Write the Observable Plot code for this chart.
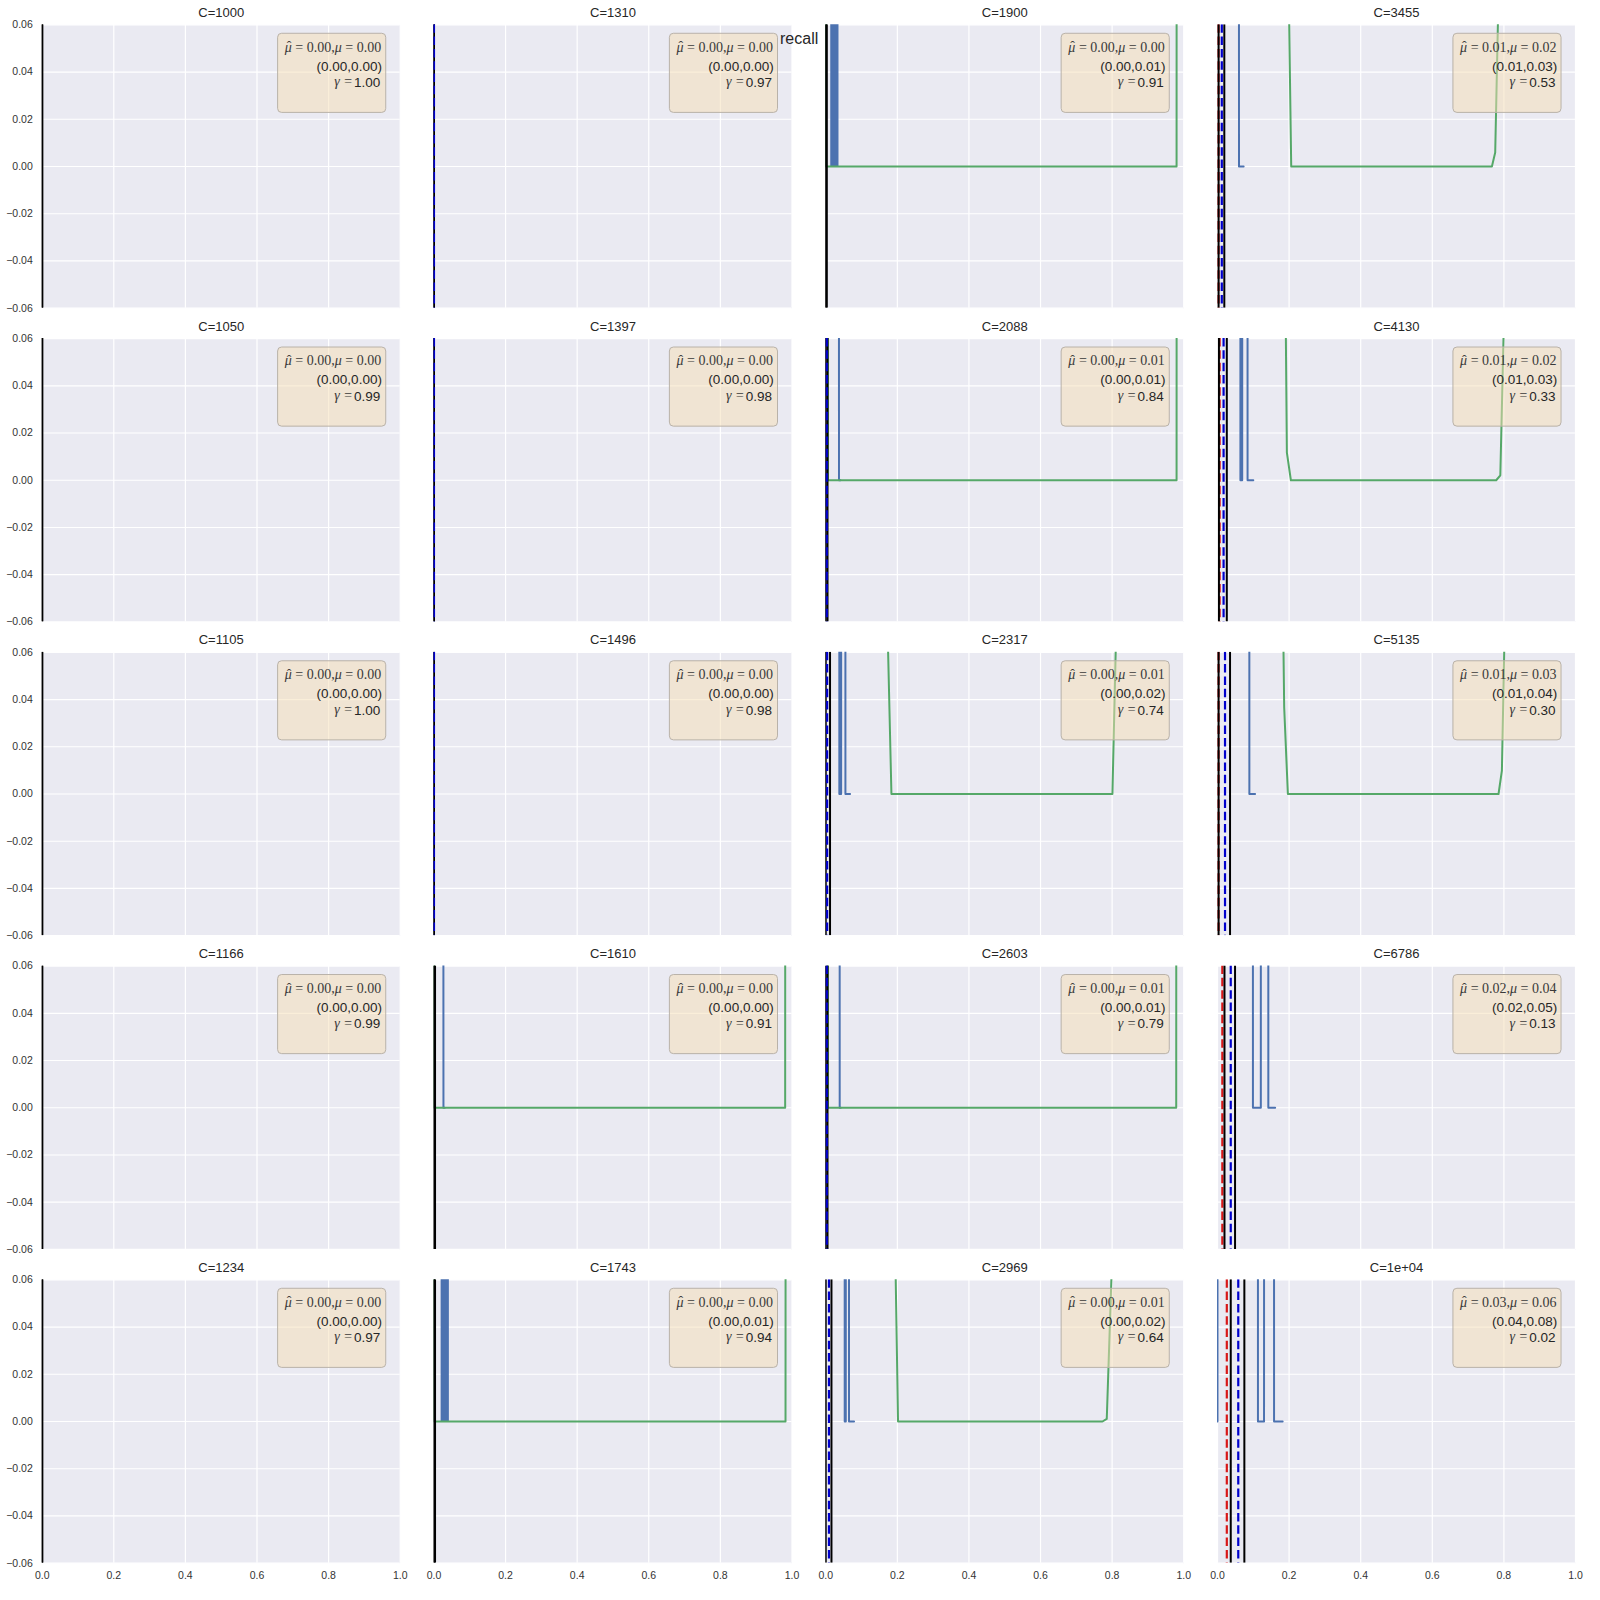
<!DOCTYPE html>
<html><head><meta charset="utf-8">
<script src="https://cdn.jsdelivr.net/npm/d3@7"></script>
<script src="https://cdn.jsdelivr.net/npm/@observablehq/plot@0.6"></script>
<style>body{margin:0;background:#fff}#chart{position:relative;width:1600px;height:1600px}</style>
</head><body><div id="chart"></div>
<script>
// ---- data (panels in column-major order: 5 rows x 4 columns) ----
const panelC = ["1000","1050","1105","1166","1234","1310","1397","1496","1610","1743","1900","2088","2317","2603","2969","3455","4130","5135","6786","1e+04"];
const muHatText = ["0.00","0.00","0.00","0.00","0.00","0.00","0.00","0.00","0.00","0.00","0.00","0.00","0.00","0.00","0.00","0.01","0.01","0.01","0.02","0.03"];
const muText = ["0.00","0.00","0.00","0.00","0.00","0.00","0.00","0.00","0.00","0.00","0.00","0.01","0.01","0.01","0.01","0.02","0.02","0.03","0.04","0.06"];
const ciText = ["(0.00,0.00)","(0.00,0.00)","(0.00,0.00)","(0.00,0.00)","(0.00,0.00)","(0.00,0.00)","(0.00,0.00)","(0.00,0.00)","(0.00,0.00)","(0.00,0.01)","(0.00,0.01)","(0.00,0.01)","(0.00,0.02)","(0.00,0.01)","(0.00,0.02)","(0.01,0.03)","(0.01,0.03)","(0.01,0.04)","(0.02,0.05)","(0.04,0.08)"];
const gammaText = ["1.00","0.99","1.00","0.99","0.97","0.97","0.98","0.98","0.91","0.94","0.91","0.84","0.74","0.79","0.64","0.53","0.33","0.30","0.13","0.02"];
// vertical reference lines
const ciLo = [0,0,0,0,0, 0,0,0,0,0, 0,0,0,0,0, 0.003,0.004,0.003,0.0195,0.037];
const ciHi = [0,0,0,0,0, 0,0,0,0.003,0.003, 0.003,0.005,0.012,0.005,0.016, 0.019,0.026,0.035,0.049,0.075];
const muLine = [null,null,null,null,null, 0,0,0,null,null, null,0.003,0.004,0.003,0.009, 0.012,0.017,0.021,0.037,0.058];
const muHatLine = [null,null,null,null,null, null,null,null,null,null, null,null,null,null,null, 0.003,0.006,0.003,0.0135,0.026];
// dense blue region [x1, x2]
const blueBands = [null,null,null,null,null, null,null,null,null,[0.02,0.043], [0.014,0.037],null,null,null,null, null,null,null,null,null];
// blue curve [x, y]
const blueCurves = [
  [],[],[],[],[],
  [],[],[],
  [[0.024,1],[0.0265,0],[0.03,0]],
  [],
  [],
  [[0.036,1],[0.037,0],[0.041,0]],
  [[0.037,1],[0.038,0],[0.043,0],[0.044,1],[0.054,1],[0.055,0],[0.068,0]],
  [[0.038,1],[0.039,0],[0.042,0]],
  [[0.052,1],[0.053,0],[0.056,0],[0.057,1],[0.064,1],[0.065,0],[0.079,0]],
  [[0.059,1],[0.060,0],[0.073,0]],
  [[0.063,1],[0.064,0],[0.069,0],[0.070,1],[0.083,1],[0.084,0],[0.100,0]],
  [[0.088,1],[0.089,0],[0.105,0]],
  [[0.098,1],[0.099,0],[0.121,0],[0.122,1],[0.141,1],[0.142,0],[0.161,0]],
  [[0,0],[0.0005,1],[0.112,1],[0.113,0],[0.130,0],[0.131,1],[0.157,1],[0.158,0],[0.182,0]]
];
// green curve [x, y]
const greenCurves = [
  [],[],[],[],[],
  [],[],[],
  [[0,0.5],[0.001,0],[0.981,0],[0.982,0.5]],
  [[0,0.5],[0.001,0],[0.982,0],[0.983,0.5]],
  [[0,0.5],[0.001,0],[0.980,0],[0.981,0.5]],
  [[0.005,0.5],[0.006,0],[0.980,0],[0.981,0.5]],
  [[0.165,0.12],[0.1835,0],[0.8008,0],[0.819,0.12]],
  [[0.005,0.5],[0.006,0],[0.979,0],[0.980,0.5]],
  [[0.189,0.12],[0.202,0],[0.773,0],[0.785,0.0011],[0.811,0.12]],
  [[0.1947,0.12],[0.2059,0],[0.7665,0],[0.7757,0.0059],[0.7915,0.12]],
  [[0.1875,0.12],[0.1938,0.0117],[0.205,0],[0.7785,0],[0.790,0.0021],[0.808,0.12]],
  [[0.1795,0.12],[0.1863,0.0365],[0.1966,0],[0.785,0],[0.7944,0.0099],[0.8085,0.12]],
  [],[]
];
const xTicks = [0, 0.2, 0.4, 0.6, 0.8, 1.0];
const yTicks = [-0.06, -0.04, -0.02, 0, 0.02, 0.04, 0.06];
const xDomain = [0, 1];
const yDomain = [-0.06, 0.06];
const superLabel = "recall";

// ---- layout ----
const W = 1600, H = 1600;
const M = {top: 24.3, right: 25, bottom: 37.3, left: 41.7};
const BOX = {x1: 0.659, x2: 0.961, y1: 0.0227, y2: 0.0562};
const colOf = i => Math.floor(i / 5), rowOf = i => i % 5;

const rows = panelC.map((C, i) => ({i, C, col: colOf(i), row: rowOf(i),
  muHat: muHatText[i], mu: muText[i], ci: ciText[i], gamma: gammaText[i]}));
const vline = vals => vals.flatMap((v, i) => v == null ? [] : [{i, x: v, col: colOf(i), row: rowOf(i)}]);
const curveRows = curves => curves.flatMap((pts, i) => pts.map(([x, y]) => ({i, x, y, col: colOf(i), row: rowOf(i)})));
const bandRows = blueBands.flatMap((b, i) => b ? [{i, x1: b[0], x2: b[1], col: colOf(i), row: rowOf(i)}] : []);
const fxy = {fx: "col", fy: "row"};

const chart = Plot.plot({
  width: W, height: H,
  marginTop: M.top, marginRight: M.right, marginBottom: M.bottom, marginLeft: M.left,
  style: {fontFamily: "Liberation Sans, Arial, sans-serif", background: "white", color: "#262626"},
  x: {domain: xDomain, label: null},
  y: {domain: yDomain, label: null},
  fx: {domain: [0,1,2,3], axis: null, paddingInner: 0.0862, paddingOuter: 0, round: false},
  fy: {domain: [0,1,2,3,4], axis: null, paddingInner: 0.0967, paddingOuter: 0, round: false},
  marks: [
    Plot.frame({fill: "#EAEAF2", stroke: "none"}),
    Plot.gridX(xTicks, {stroke: "white", strokeOpacity: 1, strokeWidth: 1.2}),
    Plot.gridY(yTicks, {stroke: "white", strokeOpacity: 1, strokeWidth: 1.2}),
    Plot.axisX(xTicks, {tickSize: 0, tickPadding: 8.5, tickFormat: d3.format(".1f"), fontSize: 10.5, fill: "#333", label: null, facetAnchor: "bottom"}),
    Plot.axisY(yTicks, {tickSize: 0, tickPadding: 9.4, tickFormat: d3.format(".2f"), fontSize: 10.5, fill: "#333", label: null, facetAnchor: "left"}),
    Plot.rect(bandRows, {x1: "x1", x2: "x2", y1: () => 0, y2: () => 1, ...fxy, fill: "#4C72B0", clip: true}),
    Plot.line(curveRows(blueCurves), {x: "x", y: "y", z: "i", ...fxy, stroke: "#4C72B0", strokeWidth: 2, clip: true}),
    Plot.line(curveRows(greenCurves), {x: "x", y: "y", z: "i", ...fxy, stroke: "#55A868", strokeWidth: 2, clip: true}),
    Plot.ruleX(vline(muHatLine), {x: "x", ...fxy, stroke: "#d81818", strokeWidth: 2.2, strokeDasharray: "8.5,3.8", clip: true}),
    Plot.ruleX(vline(ciLo).concat(vline(ciHi)), {x: "x", ...fxy, stroke: "#000", strokeWidth: 2, clip: true}),
    Plot.ruleX(vline(muLine), {x: "x", ...fxy, stroke: "#0000cc", strokeWidth: 2.2, strokeDasharray: "8.5,3.8", clip: true}),
    Plot.rect(rows, {x1: () => BOX.x1, x2: () => BOX.x2, y1: () => BOX.y1, y2: () => BOX.y2, ...fxy,
      fill: "wheat", fillOpacity: 0.5, stroke: "#b9b2a9", strokeWidth: 1, rx: 4}),
    Plot.text(rows, {...fxy, text: d => `\u03bc\u0302 = ${d.muHat},\u03bc = ${d.mu}`, frameAnchor: "top-right", dx: -19, dy: 22.4,
      textAnchor: "end", lineAnchor: "middle", fontFamily: "Liberation Serif", fontSize: 14, fill: "#3a3a3a"}),
    Plot.text(rows, {...fxy, text: "ci", frameAnchor: "top-right", dx: -18.3, dy: 41.4,
      textAnchor: "end", lineAnchor: "middle", fontSize: 13.5, fill: "#262626"}),
    Plot.text(rows, {...fxy, text: "gamma", frameAnchor: "top-right", dx: -20, dy: 58,
      textAnchor: "end", lineAnchor: "middle", fontSize: 13.5, fill: "#262626"}),
    Plot.text(rows, {...fxy, text: () => "\u03b3 =", frameAnchor: "top-right", dx: -47.5, dy: 57,
      textAnchor: "end", lineAnchor: "middle", fontFamily: "Liberation Serif", fontStyle: "italic", fontSize: 14, fill: "#3a3a3a"}),
    Plot.text(rows, {...fxy, text: d => "C=" + d.C, frameAnchor: "top", dy: -12, lineAnchor: "middle", fontSize: 13, fill: "#262626"})
  ]
});

// typeset the math line: italic mu with a hat drawn above it
const mathRe = /^\u03bc\u0302 = (.*),\u03bc = (.*)$/;
d3.select(chart).selectAll("text").filter(function() { return mathRe.test(this.textContent); }).each(function() {
  const [, a, b] = this.textContent.match(mathRe);
  const t = d3.select(this);
  t.text(null);
  t.append("tspan").attr("font-style", "italic").text("\u03bc");
  t.append("tspan").attr("dx", "-0.36em").attr("dy", "-0.02em").text("\u02c6");
  t.append("tspan").attr("dx", "0.03em").attr("dy", "0.02em").text("\u00a0=\u00a0" + a + ",");
  t.append("tspan").attr("font-style", "italic").text("\u03bc");
  t.append("tspan").text("\u00a0=\u00a0" + b);
});

d3.select(chart).append("text")
  .attr("x", 780).attr("y", 44)
  .attr("text-anchor", "start")
  .attr("font-size", 16).attr("fill", "#262626")
  .attr("font-family", "Liberation Sans, Arial, sans-serif")
  .text(superLabel);
document.getElementById("chart").appendChild(chart);
</script></body></html>
